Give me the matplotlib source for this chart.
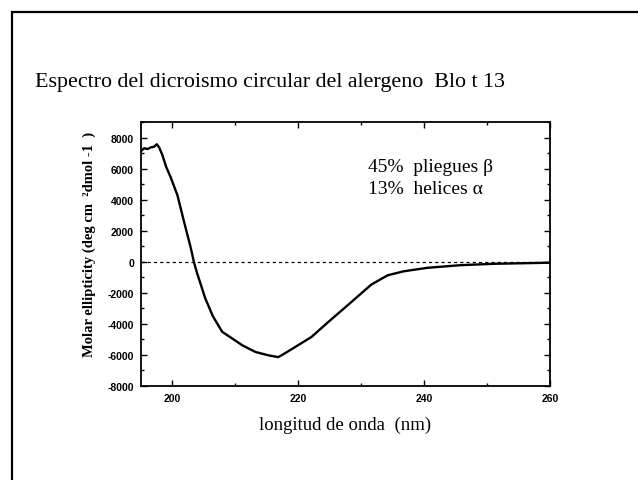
import matplotlib
matplotlib.use('Agg')
import matplotlib.pyplot as plt
from matplotlib.patches import Rectangle
from matplotlib.ticker import MultipleLocator

plt.rcParams['axes.unicode_minus'] = False

# CD spectrum of Blo t 13
wavelength = [195.0, 195.5, 196.05, 196.6, 197.1, 197.5, 197.9, 198.4, 199.0, 199.7,
              200.8, 201.8, 202.9, 203.4, 203.9, 205.2, 206.4, 207.9, 209.5, 211.1,
              213.2, 215.3, 216.8, 217.6, 219.5, 222.1, 224.7, 227.9, 231.6, 234.2,
              236.8, 240.5, 245.8, 251.1, 256.3, 260.0]
ellipticity = [7130, 7310, 7260, 7370, 7410, 7570, 7350, 6870, 6110, 5460,
               4270, 2640, 910, 0, -715, -2340, -3490, -4510, -4940, -5380,
               -5810, -6030, -6140, -5960, -5490, -4840, -3900, -2780, -1470, -870,
               -610, -390, -220, -130, -90, -60]

title = 'Espectro del dicroismo circular del alergeno  Blo t 13'
note = '45%  pliegues β\n13%  helices α'
xlabel = 'longitud de onda  (nm)'
ylabel = 'Molar ellipticity (deg cm  ²dmol -1  )'

serif = ['Liberation Serif', 'DejaVu Serif']
sans = ['Liberation Sans', 'DejaVu Sans']

fig = plt.figure(figsize=(6.38, 4.81), dpi=100)

# slide frame, cut at right and bottom
fig.add_artist(Rectangle((12/638, -0.1), 1.0, 1 - 13/481 + 0.1, transform=fig.transFigure,
                         fill=False, edgecolor='black', linewidth=1.6))

fig.text(35/638, 1 - 82/481, title, family=serif, fontsize=15.8, va='center', ha='left')

ax = fig.add_axes([141/638, 1 - 387/481, 409/638, 264/481])
ax.plot(wavelength, ellipticity, color='black', linewidth=1.7)
ax.axhline(0, color='black', linestyle=(0, (2.5, 2.5)), linewidth=0.9)

ax.set_xlim(195, 260)
ax.set_ylim(-8000, 9000)
ax.set_xticks([200, 220, 240, 260])
ax.set_yticks(range(-8000, 8001, 2000))
ax.xaxis.set_minor_locator(MultipleLocator(10))
ax.yaxis.set_minor_locator(MultipleLocator(1000))
ax.tick_params(which='both', direction='in', top=True, right=True, width=1)
ax.tick_params(which='major', length=4, labelsize=7.5, pad=5)
ax.tick_params(which='minor', length=2.5)
for lab in ax.get_xticklabels() + ax.get_yticklabels():
    lab.set_family(sans)
    lab.set_fontweight('bold')
for s in ax.spines.values():
    s.set_linewidth(1.3)

ax.set_xlabel(xlabel, family=serif, fontsize=13.5, labelpad=9)
ax.set_ylabel(ylabel, family=serif, fontsize=10.5, fontweight='bold')
ax.yaxis.set_label_coords(-0.11, 0.54)

ax.text(0.555, 0.865, note, transform=ax.transAxes, family=serif, fontsize=14,
        va='top', ha='left', linespacing=1.45)

fig.savefig('out.png', dpi=100)
